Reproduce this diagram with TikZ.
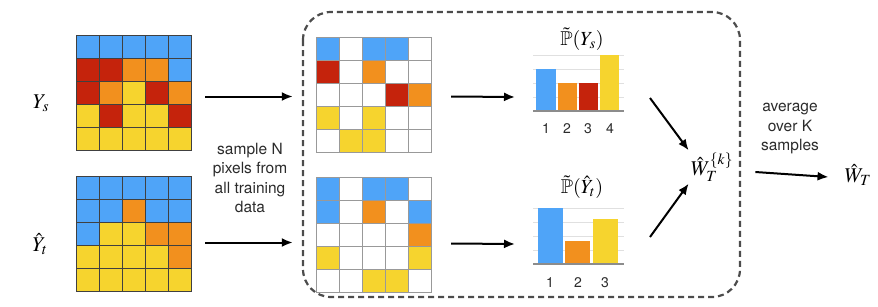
\documentclass[tikz,border=0pt]{standalone}
\usepackage{amsmath,amssymb}
\usepackage{mathptmx}
\usepackage{fontspec}
\setmainfont{TeX Gyre Heros}
\usetikzlibrary{arrows.meta, positioning, calc}
\definecolor{pB}{HTML}{4FA4F8}
\definecolor{pR}{HTML}{C5230C}
\definecolor{pO}{HTML}{F2901E}
\definecolor{pY}{HTML}{F6D42E}
\definecolor{pW}{HTML}{FFFFFF}
\definecolor{darktext}{HTML}{2B2B2B}

% grid of 5x5 pixels: #1 x, #2 y (top left), #3 border colour, #4 rows
\newcommand{\pixgrid}[4]{%
  \foreach \row [count=\r from 0] in {#4} {
    \foreach \c [count=\k from 0] in \row {
      \draw[draw=#3, line width=0.8pt, fill=\c] (#1+\k*23, #2+\r*23) rectangle ++(23,23);
    }
  }
}

\begin{document}
\begin{tikzpicture}[
    x=1pt, y=-1pt,
    gridnode/.style={inner sep=0pt, minimum size=115pt},
    arrow/.style={-{Latex[length=11pt, width=9pt]}, line width=2pt, color=black},
    note/.style={font=\fontsize{15.5}{19.5}\selectfont, text=darktext, align=center},
    mathlabel/.style={font=\fontsize{21}{24}\selectfont, text=black, inner sep=2pt},
    charttitle/.style={font=\fontsize{20}{23}\selectfont, text=black, inner sep=1pt},
    ticklabel/.style={font=\fontsize{14}{16}\selectfont, text=darktext},
    chartgrid/.style={draw=black!12, line width=0.8pt},
    chartaxis/.style={draw=black!45, line width=1.4pt}
]
\useasboundingbox (0,0) rectangle (878,306);

% Full label maps (left)
\pixgrid{76}{35}{black!75}{{pB,pB,pB,pB,pB},{pR,pR,pO,pO,pB},{pR,pO,pY,pR,pO},{pY,pR,pY,pY,pR},{pY,pY,pY,pY,pY}}
\pixgrid{76}{176}{black!75}{{pB,pB,pB,pB,pB},{pB,pB,pO,pB,pB},{pB,pY,pY,pO,pO},{pY,pY,pY,pY,pO},{pY,pY,pY,pY,pY}}
\node[gridnode] (ys) at (133.5,92.5) {};
\node[gridnode] (yt) at (133.5,233.5) {};
\node[mathlabel] (lys) at (41,103) {$Y_s$};
\node[mathlabel] (lyt) at (40,244) {$\hat{Y}_t$};

% Sampled pixels (middle)
\pixgrid{316}{37}{black!40}{{pB,pW,pB,pB,pW},{pR,pW,pO,pW,pW},{pW,pW,pW,pR,pO},{pY,pW,pY,pW,pW},{pW,pY,pY,pW,pW}}
\pixgrid{316}{177}{black!40}{{pB,pW,pB,pB,pW},{pB,pW,pO,pW,pB},{pW,pW,pW,pW,pO},{pY,pW,pW,pW,pY},{pW,pW,pY,pY,pW}}
\node[gridnode] (ss) at (373.5,94.5) {};
\node[gridnode] (st) at (373.5,234.5) {};

\node[note] (sample) at (250,178) {sample N\\pixels from\\all training\\data};

% Histogram of source labels
\foreach \gy in {55,69,83,97} \draw[chartgrid] (533,\gy) -- (624,\gy);
\fill[pB] (536,69) rectangle (556,111);
\fill[pO] (558,83) rectangle (577,111);
\fill[pR] (579,83) rectangle (598,111);
\fill[pY] (600,55) rectangle (619,111);
\draw[chartaxis] (533,111) -- (624,111);
\node[charttitle] (hstitle) at (582,39) {$\tilde{\mathbb{P}}(Y_s)$};
\node[ticklabel] (hs1) at (546,129) {1};
\node[ticklabel] (hs2) at (567,129) {2};
\node[ticklabel] (hs3) at (588,129) {3};
\node[ticklabel] (hs4) at (610,129) {4};

% Histogram of target predictions
\foreach \gy in {208,222,236,250} \draw[chartgrid] (533,\gy) -- (624,\gy);
\fill[pB] (538,208) rectangle (563,264);
\fill[pO] (565,241) rectangle (590,264);
\fill[pY] (593,219) rectangle (618,264);
\draw[chartaxis] (533,264) -- (624,264);
\node[charttitle] (httitle) at (582,187) {$\tilde{\mathbb{P}}(\hat{Y}_t)$};
\node[ticklabel] (ht1) at (550,283) {1};
\node[ticklabel] (ht2) at (578,283) {2};
\node[ticklabel] (ht3) at (605,283) {3};

% Weights
\node[mathlabel] (wk) at (712,167) {$\hat{W}_T^{\{k\}}$};
\node[mathlabel] (wt) at (858,175) {$\hat{W}_T$};
\node[note] (avg) at (790,129) {average\\over K\\samples};

% Arrows
\coordinate (hsin) at (515,97);
\coordinate (htin) at (515,244);
\coordinate (hsout) at (650,98);
\coordinate (htout) at (650,237);
\draw[arrow] ([xshift=14pt,yshift=-4pt]ys.east) -- ([xshift=-23pt,yshift=-2pt]ss.west);
\draw[arrow] ([xshift=14pt,yshift=-9pt]yt.east) -- ([xshift=-23pt,yshift=-8pt]st.west);
\draw[arrow] ([xshift=20pt,yshift=-2pt]ss.east) -- (hsin);
\draw[arrow] ([xshift=20pt,yshift=-9pt]st.east) -- (htin);
\draw[arrow] (hsout) -- (wk.north west);
\draw[arrow] (htout) -- (wk.south west);
\draw[arrow] ([xshift=20pt,yshift=-5pt]wk.east) -- ([xshift=-14pt,yshift=-2pt]wt.west);

% Sampling loop
\draw[black!70, line width=2.2pt, dash pattern=on 6pt off 4pt, rounded corners=28pt]
    (303,12) rectangle (740,297);

\end{tikzpicture}
\end{document}
